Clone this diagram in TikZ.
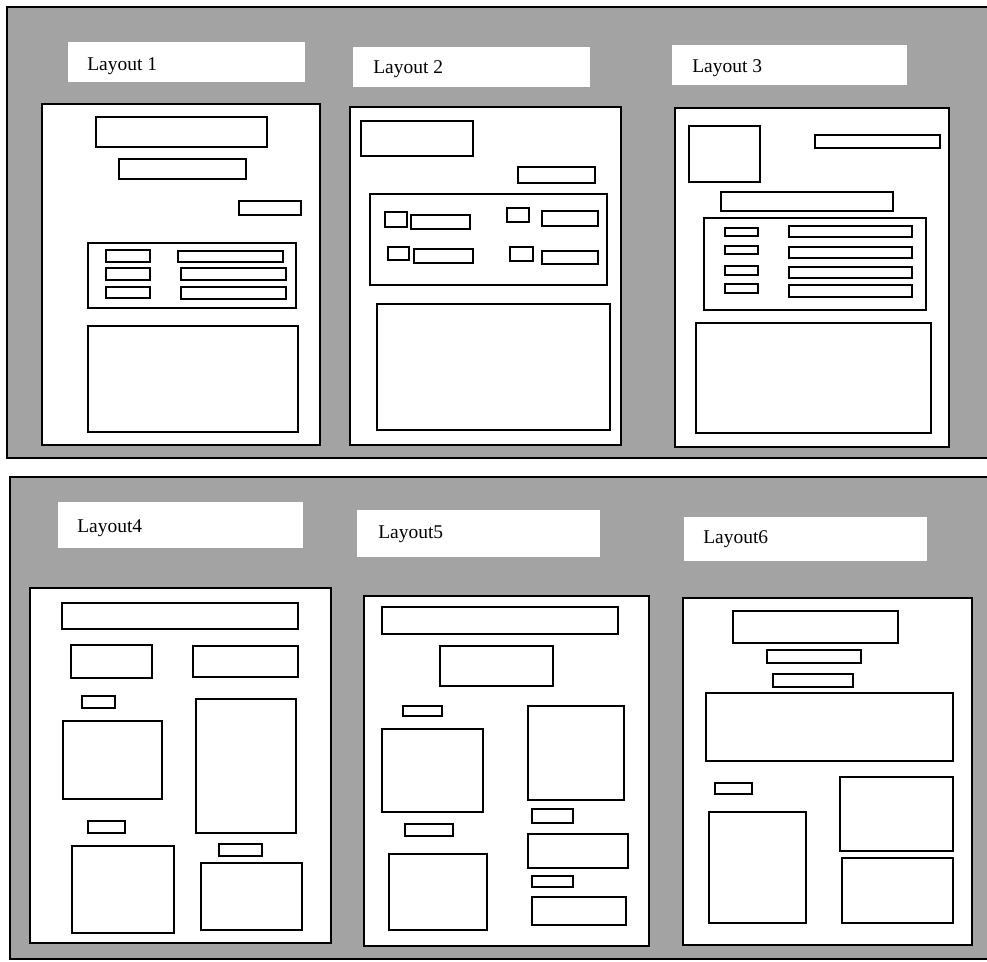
\documentclass[tikz,border=0pt]{standalone}
\usepackage{fontspec}
\setmainfont{Liberation Serif}
\begin{document}
\begin{tikzpicture}[x=0.75pt,y=-0.75pt,
  panel/.style={draw=black,line width=1.6pt,fill=black!36},
  tag/.style={fill=white,draw=none},
  tagtext/.style={anchor=base west,inner sep=0pt,font=\fontsize{14.6pt}{16pt}\selectfont},
  page/.style={draw=black,line width=1.6pt,fill=white},
  blk/.style={draw=black,line width=1.5pt,fill=white}]
\useasboundingbox (0,0) rectangle (987,961);
% two shaded panels, running off the right edge
\draw[panel] (1000,7) -- (7,7) -- (7,458) -- (1000,458);
\draw[panel] (1000,477) -- (10,477) -- (10,959) -- (1000,959);

% ---------- Layout 1 ----------
\fill[tag] (68,42) rectangle (305,82);
\node[tagtext] (t1) at (87,70) {Layout 1};
\draw[page] (42,104) rectangle (320,445);
\draw[blk] (96,117) rectangle (267,147);
\draw[blk] (119,159) rectangle (246,179);
\draw[blk] (239,201) rectangle (301,215);
\draw[blk] (88,243) rectangle (296,308);
\draw[blk] (106,250) rectangle (150,262);
\draw[blk] (106,268) rectangle (150,280);
\draw[blk] (106,287) rectangle (150,298);
\draw[blk] (178,251) rectangle (283,262);
\draw[blk] (181,268) rectangle (286,280);
\draw[blk] (181,287) rectangle (286,299);
\draw[blk] (88,326) rectangle (298,432);

% ---------- Layout 2 ----------
\fill[tag] (353,47) rectangle (590,87);
\node[tagtext] (t2) at (373,73) {Layout 2};
\draw[page] (350,107) rectangle (621,445);
\draw[blk] (361,121) rectangle (473,156);
\draw[blk] (518,167) rectangle (595,183);
\draw[blk] (370,194) rectangle (607,285);
\draw[blk] (385,212) rectangle (407,227);
\draw[blk] (411,215) rectangle (470,229);
\draw[blk] (507,208) rectangle (529,222);
\draw[blk] (542,211) rectangle (598,226);
\draw[blk] (388,247) rectangle (409,260);
\draw[blk] (414,249) rectangle (473,263);
\draw[blk] (510,247) rectangle (533,261);
\draw[blk] (542,251) rectangle (598,264);
\draw[blk] (377,304) rectangle (610,430);

% ---------- Layout 3 ----------
\fill[tag] (672,45) rectangle (907,85);
\node[tagtext] (t3) at (692,72) {Layout 3};
\draw[page] (675,108) rectangle (949,447);
\draw[blk] (689,126) rectangle (760,182);
\draw[blk] (815,135) rectangle (940,148);
\draw[blk] (721,192) rectangle (893,211);
\draw[blk] (704,218) rectangle (926,310);
\draw[blk] (725,228) rectangle (758,236);
\draw[blk] (725,246) rectangle (758,254);
\draw[blk] (725,266) rectangle (758,275);
\draw[blk] (725,284) rectangle (758,293);
\draw[blk] (789,226) rectangle (912,237);
\draw[blk] (789,247) rectangle (912,258);
\draw[blk] (789,267) rectangle (912,278);
\draw[blk] (789,285) rectangle (912,297);
\draw[blk] (696,323) rectangle (931,433);

% ---------- Layout4 ----------
\fill[tag] (58,502) rectangle (303,548);
\node[tagtext] (t4) at (77,532) {Layout4};
\draw[page] (30,588) rectangle (331,943);
\draw[blk] (62,603) rectangle (298,629);
\draw[blk] (71,645) rectangle (152,678);
\draw[blk] (193,646) rectangle (298,677);
\draw[blk] (82,696) rectangle (115,708);
\draw[blk] (63,721) rectangle (162,799);
\draw[blk] (196,699) rectangle (296,833);
\draw[blk] (88,821) rectangle (125,833);
\draw[blk] (72,846) rectangle (174,933);
\draw[blk] (219,844) rectangle (262,856);
\draw[blk] (201,863) rectangle (302,930);

% ---------- Layout5 ----------
\fill[tag] (357,510) rectangle (600,557);
\node[tagtext] (t5) at (378,538) {Layout5};
\draw[page] (364,596) rectangle (649,946);
\draw[blk] (382,607) rectangle (618,634);
\draw[blk] (440,646) rectangle (553,686);
\draw[blk] (403,706) rectangle (442,716);
\draw[blk] (382,729) rectangle (483,812);
\draw[blk] (528,706) rectangle (624,800);
\draw[blk] (405,824) rectangle (453,836);
\draw[blk] (532,809) rectangle (573,823);
\draw[blk] (528,834) rectangle (628,868);
\draw[blk] (532,876) rectangle (573,887);
\draw[blk] (532,897) rectangle (626,925);
\draw[blk] (389,854) rectangle (487,930);

% ---------- Layout6 ----------
\fill[tag] (684,517) rectangle (927,561);
\node[tagtext] (t6) at (703,543) {Layout6};
\draw[page] (683,598) rectangle (972,945);
\draw[blk] (733,611) rectangle (898,643);
\draw[blk] (767,650) rectangle (861,663);
\draw[blk] (773,674) rectangle (853,687);
\draw[blk] (706,693) rectangle (953,761);
\draw[blk] (715,783) rectangle (752,794);
\draw[blk] (840,777) rectangle (953,851);
\draw[blk] (709,812) rectangle (806,923);
\draw[blk] (842,858) rectangle (953,923);
\end{tikzpicture}
\end{document}
